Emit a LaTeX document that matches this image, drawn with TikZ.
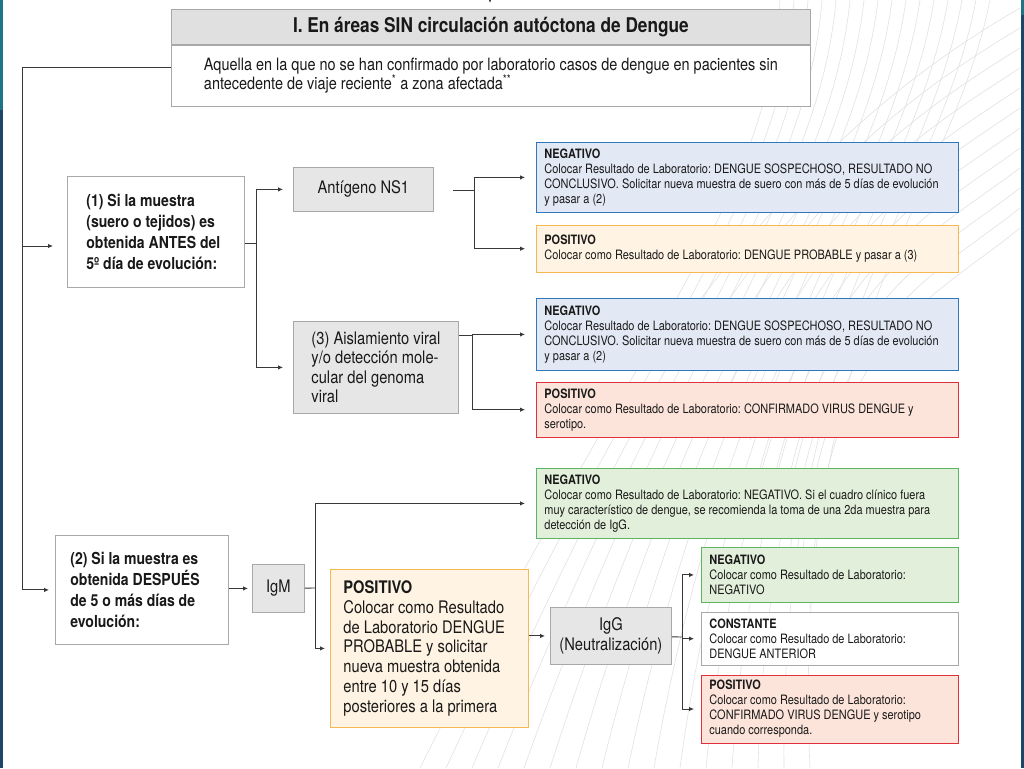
\documentclass[tikz,border=0pt]{standalone}
\usepackage{fontspec}
\setmainfont{TeX Gyre Heros}[FakeStretch=0.85]
\usepackage{xcolor}
\usepackage{tikz}
\usetikzlibrary{arrows.meta,positioning,calc}
\frenchspacing

\definecolor{lineagris}{HTML}{383838}
\definecolor{bordegris}{HTML}{A8A8A8}
\definecolor{fondogris}{HTML}{E6E6E6}
\definecolor{fondohdr}{HTML}{E0E0E0}
\definecolor{azulborde}{HTML}{2F78BE}
\definecolor{azulfondo}{HTML}{E2E9F5}
\definecolor{naranjaborde}{HTML}{F6B951}
\definecolor{naranjafondo}{HTML}{FFF4E3}
\definecolor{rojoborde}{HTML}{E0303C}
\definecolor{rojofondo}{HTML}{FCE4DB}
\definecolor{verdeborde}{HTML}{5DB462}
\definecolor{verdefondo}{HTML}{E2F0DB}
\definecolor{marino}{HTML}{1E4668}
\definecolor{turquesa}{HTML}{1D7388}
\definecolor{malla}{HTML}{E2E2E2}

\begin{document}
\begin{tikzpicture}[x=1pt, y=-1pt,
  every node/.style={font=\fontsize{12.9}{15}\selectfont, text=black!90},
  caja/.style={draw=bordegris, line width=0.8pt, inner xsep=8pt, inner ysep=2pt, align=flush left, anchor=north west},
  gris/.style={caja, fill=fondogris, font=\fontsize{17.3}{19.3}\selectfont},
  pregunta/.style={caja, fill=white, font=\bfseries\fontsize{16.5}{21}\selectfont},
  resul/.style={caja, text width=406pt},
  resulchico/.style={caja, text width=241pt},
  azul/.style={draw=azulborde, fill=azulfondo},
  naranja/.style={draw=naranjaborde, fill=naranjafondo},
  rojo/.style={draw=rojoborde, fill=rojofondo},
  verde/.style={draw=verdeborde, fill=verdefondo},
  linea/.style={draw=lineagris, line width=0.9pt},
  flecha/.style={linea, -{Latex[length=5pt,width=4.5pt]}, shorten >=6pt},
]
\useasboundingbox (0,0) rectangle (1024,768);
\fill[white] (0,0) rectangle (1024,768);
% fondo
\begin{scope}[draw=malla, line width=0.6pt]
\foreach \i in {0,...,15}
  \draw (780+14*\i,0) .. controls (770+12*\i,200) and (640+10*\i,330) .. (420+26*\i,768);
\foreach \i in {0,...,11}
  \draw (1020,8+20*\i) .. controls (930,60+22*\i) and (820,140+18*\i) .. (700+10*\i,300+28*\i);
\end{scope}
\fill[marino] (0,0) rectangle (3,768);
\fill[turquesa] (0,0) rectangle (3,110);
\fill[marino] (1021,0) rectangle (1024,768);
\fill[turquesa] (1021,0) rectangle (1024,15);

% encabezado
\node[gris, fill=fondohdr, align=center, minimum width=639pt, minimum height=35pt,
  font=\bfseries\fontsize{20.3}{22}\selectfont] (titulo) at (171,9) {I. En áreas SIN circulación autóctona de Dengue};
\node[caja, fill=white, below=0pt of titulo.south west, anchor=north west, minimum width=639pt,
  minimum height=61pt, font=\fontsize{17}{19}\selectfont] (defin)
  {Aquella en la que no se han confirmado por laboratorio casos de dengue en pacientes sin\\antecedente de viaje reciente\textsuperscript{*} a zona afectada\textsuperscript{**}};

% preguntas y pruebas
\node[pregunta, inner xsep=19pt, text width=139pt, minimum height=111pt] (m1) at (67,176) {(1) Si la muestra\\(suero o tejidos) es\\obtenida ANTES del\\5º día de evolución:};
\node[pregunta, inner xsep=15pt, text width=143pt, minimum height=109pt] (m2) at (55,535) {(2) Si la muestra es\\obtenida DESPUÉS\\de 5 o más días de\\evolución:};
\node[gris, align=center, minimum width=140pt, minimum height=44pt] (ns1) at (293,167) {Antígeno NS1};
\node[gris, minimum width=165pt, minimum height=92pt] (ais) at (293,321) {(3) Aislamiento viral\\y/o detección mole-\\cular del genoma\\viral};
\node[gris, align=center, minimum width=52pt, minimum height=48pt] (igm) at (252,564) {IgM};
\node[caja, naranja, inner xsep=13pt, text width=172pt, minimum height=158pt, font=\fontsize{17.3}{19.7}\selectfont] (pos3) at (330,569)
  {\textbf{POSITIVO}\\Colocar como Resultado\\de Laboratorio DENGUE\\PROBABLE y solicitar\\nueva muestra obtenida\\entre 10 y 15 días\\posteriores a la primera};
\node[gris, align=center, minimum width=121pt, minimum height=57pt] (igg) at (550,607) {IgG\\(Neutralización)};

% resultados
\node[resul, azul, minimum height=70pt] (neg1) at (536,142)
  {\textbf{NEGATIVO}\\Colocar Resultado de Laboratorio: DENGUE SOSPECHOSO, RESULTADO NO\\CONCLUSIVO. Solicitar nueva muestra de suero con más de 5 días de evolución\\y pasar a (2)};
\node[resul, naranja, below=12pt of neg1.south west, anchor=north west, minimum height=47pt] (pos1)
  {\textbf{POSITIVO}\\Colocar como Resultado de Laboratorio: DENGUE PROBABLE y pasar a (3)};
\node[resul, azul, minimum height=72pt] (neg2) at (536,298)
  {\textbf{NEGATIVO}\\Colocar Resultado de Laboratorio: DENGUE SOSPECHOSO, RESULTADO NO\\CONCLUSIVO. Solicitar nueva muestra de suero con más de 5 días de evolución\\y pasar a (2)};
\node[resul, rojo, below=11pt of neg2.south west, anchor=north west, minimum height=55pt] (pos2)
  {\textbf{POSITIVO}\\Colocar como Resultado de Laboratorio: CONFIRMADO VIRUS DENGUE y\\serotipo.};
\node[resul, verde, minimum height=70pt] (neg3) at (536,468)
  {\textbf{NEGATIVO}\\Colocar como Resultado de Laboratorio: NEGATIVO. Si el cuadro clínico fuera\\muy característico de dengue, se recomienda la toma de una 2da muestra para\\detección de IgG.};
\node[resulchico, verde, minimum height=55pt] (neg4) at (701,547)
  {\textbf{NEGATIVO}\\Colocar como Resultado de Laboratorio:\\NEGATIVO};
\node[resulchico, fill=white, below=9pt of neg4.south west, anchor=north west, minimum height=53pt] (cons)
  {\textbf{CONSTANTE}\\Colocar como Resultado de Laboratorio:\\DENGUE ANTERIOR};
\node[resulchico, rojo, below=9pt of cons.south west, anchor=north west, minimum height=68pt] (pos4)
  {\textbf{POSITIVO}\\Colocar como Resultado de Laboratorio:\\CONFIRMADO VIRUS DENGUE y serotipo\\cuando corresponda.};

% conectores
\coordinate (arriba) at (490,-14);
\coordinate (t0) at (22,67);
\coordinate (r1) at (22,246);
\coordinate (b1) at (256,243);
\coordinate (b2) at (474,190);
\coordinate (b3) at (472,335);
\coordinate (b4) at (315,588);
\coordinate (b5) at (682,637);
\draw[flecha] (arriba) -- (arriba |- titulo.north);
\draw[flecha] (t0 -| defin.west) -- (t0) |- (m2);
\draw[flecha, shorten >=14pt] (r1) -- (r1 -| m1.west);
\draw[linea] (b1 -| m1.east) -- (b1);
\draw[flecha, shorten >=10pt] (b1) |- (ns1);
\draw[flecha, shorten >=10pt] (b1) |- (ais);
\draw[linea, shorten <=19pt] (b2 -| ns1.east) -- (b2);
\draw[flecha, shorten >=11pt] (b2) |- (neg1);
\draw[flecha, shorten >=11pt] (b2) |- (pos1);
\draw[linea] (b3 -| ais.east) -- (b3);
\draw[flecha, shorten >=11pt] (b3) |- (neg2);
\draw[flecha, shorten >=11pt] (b3) |- (pos2);
\draw[flecha, shorten >=4pt] (igm -| m2.east) -- (igm);
\draw[linea] (igm) -- (b4);
\draw[flecha, shorten >=11pt] (b4) |- (neg3);
\draw[flecha, shorten >=5pt] (b4) |- (pos3);
\draw[flecha, shorten >=5pt] (igg -| pos3.east) -- (igg);
\draw[linea] (igg) -- (b5);
\draw[flecha, shorten >=7pt] (b5) |- (neg4);
\draw[flecha, shorten >=7pt] (b5) |- (cons);
\draw[flecha, shorten >=7pt] (b5) |- (pos4);
\end{tikzpicture}
\end{document}
